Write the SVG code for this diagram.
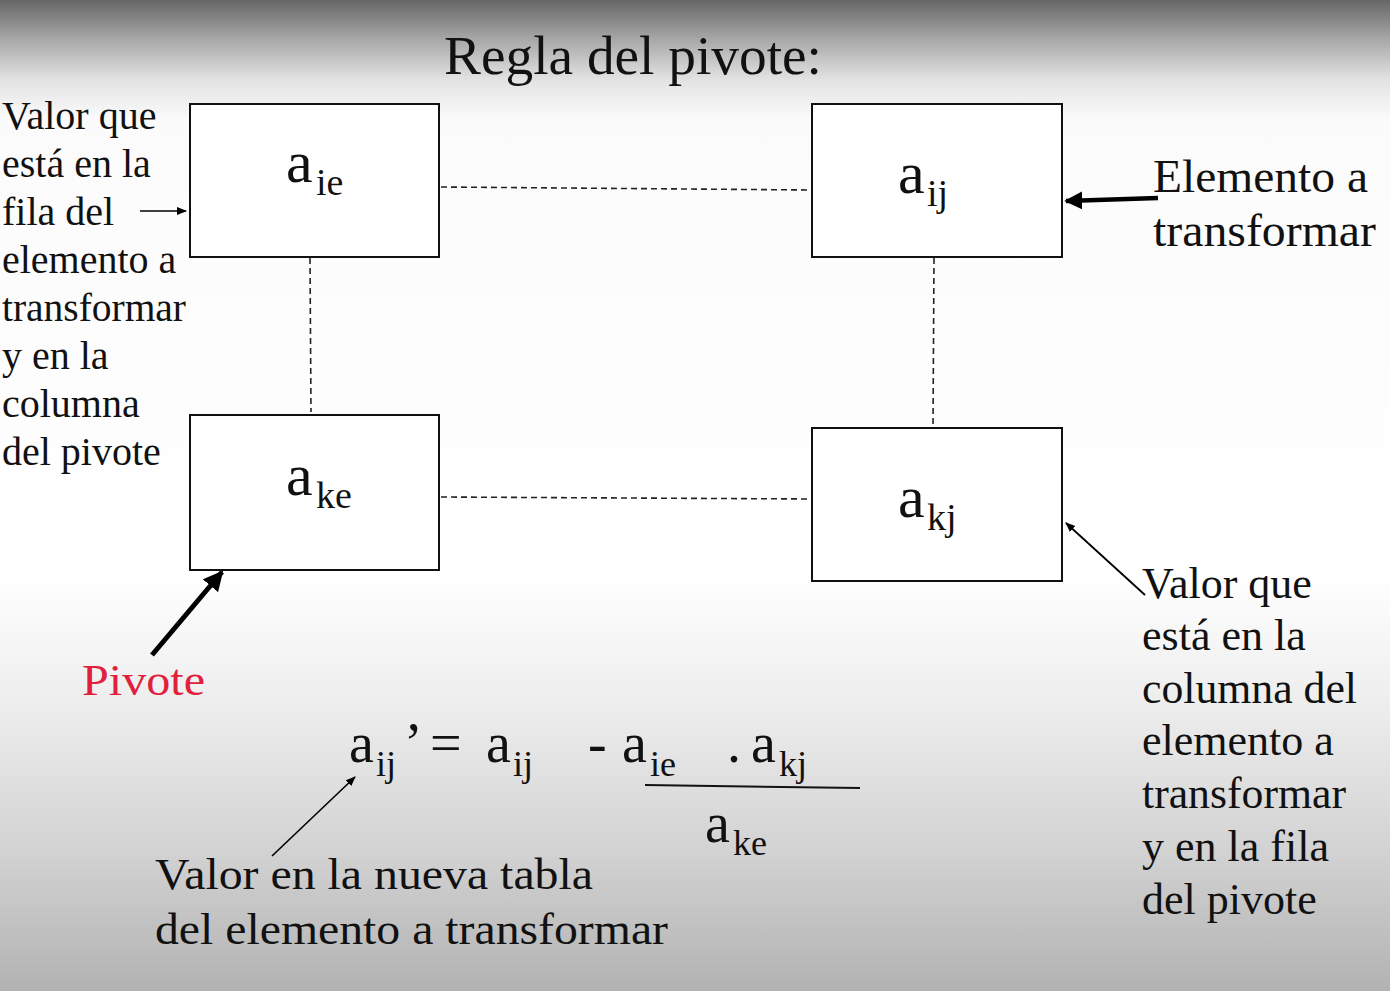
<svg xmlns="http://www.w3.org/2000/svg" width="1390" height="991" viewBox="0 0 1390 991">
<defs>
<linearGradient id="bg" x1="0" y1="0" x2="0" y2="1">
<stop offset="0" stop-color="#666666"/>
<stop offset="0.04" stop-color="#a8a8a8"/>
<stop offset="0.08" stop-color="#e2e2e2"/>
<stop offset="0.12" stop-color="#fbfbfb"/>
<stop offset="0.58" stop-color="#ffffff"/>
<stop offset="0.72" stop-color="#ececec"/>
<stop offset="0.86" stop-color="#d2d2d2"/>
<stop offset="1" stop-color="#b2b2b2"/>
</linearGradient>
<marker id="thin" viewBox="0 0 10 10" refX="9" refY="5" markerWidth="10" markerHeight="10" markerUnits="userSpaceOnUse" orient="auto">
<path d="M0,1 L10,5 L0,9 Z" fill="#000"/>
</marker>
<marker id="thick" viewBox="0 0 10 10" refX="9" refY="5" markerWidth="4" markerHeight="4" orient="auto">
<path d="M0,0 L10,5 L0,10 Z" fill="#000"/>
</marker>
</defs>
<style>
text{font-family:"Liberation Serif","Times New Roman",serif;fill:#111}
.box{fill:#fff;stroke:#111;stroke-width:2}
.dash{stroke:#222;stroke-width:1.6;stroke-dasharray:6 4;fill:none}
.lbl{font-size:40px}
.rt{font-size:44px}
.a{font-size:60px}
.s{font-size:38px}
.fa{font-size:56px}
.fs{font-size:36px}
</style>
<rect width="1390" height="991" fill="url(#bg)"/>
<text x="444" y="74" font-size="54" textLength="378" lengthAdjust="spacingAndGlyphs">Regla del pivote:</text>

<g id="connectors">
<line class="dash" x1="441" y1="187" x2="811" y2="190"/>
<line class="dash" x1="441" y1="497" x2="811" y2="499"/>
<line class="dash" x1="310" y1="258" x2="311" y2="412"/>
<line class="dash" x1="934" y1="258" x2="933" y2="427"/>
<line x1="140" y1="211" x2="186" y2="211" stroke="#000" stroke-width="1.6" marker-end="url(#thin)"/>
<line x1="1158" y1="198" x2="1066" y2="201" stroke="#000" stroke-width="4.5" marker-end="url(#thick)"/>
<line x1="152" y1="655" x2="222" y2="572" stroke="#000" stroke-width="5" marker-end="url(#thick)"/>
<line x1="1145" y1="595" x2="1066" y2="523" stroke="#000" stroke-width="1.8" marker-end="url(#thin)"/>
<line x1="272" y1="856" x2="355" y2="777" stroke="#000" stroke-width="1.6" marker-end="url(#thin)"/>
</g>

<g id="node-aie">
<rect class="box" x="190" y="104" width="249" height="153"/>
<text class="a" x="286" y="182">a</text><text class="s" x="316" y="195">ie</text>
</g>
<g id="node-aij">
<rect class="box" x="812" y="104" width="250" height="153"/>
<text class="a" x="898" y="193">a</text><text class="s" x="927" y="206">ij</text>
</g>
<g id="node-ake">
<rect class="box" x="190" y="415" width="249" height="155"/>
<text class="a" x="286" y="495">a</text><text class="s" x="316" y="508">ke</text>
</g>
<g id="node-akj">
<rect class="box" x="812" y="428" width="250" height="153"/>
<text class="a" x="898" y="517">a</text><text class="s" x="927" y="530">kj</text>
</g>

<g id="label-left" class="lbl">
<text x="2" y="129">Valor que</text>
<text x="2" y="177">está en la</text>
<text x="2" y="225">fila del</text>
<text x="2" y="273">elemento a</text>
<text x="2" y="321" textLength="184" lengthAdjust="spacingAndGlyphs">transformar</text>
<text x="2" y="369">y en la</text>
<text x="2" y="417">columna</text>
<text x="2" y="465">del pivote</text>
</g>

<g id="label-aij" class="rt">
<text x="1153" y="192" font-size="46" textLength="215" lengthAdjust="spacingAndGlyphs">Elemento a</text>
<text x="1153" y="246" font-size="46" textLength="223" lengthAdjust="spacingAndGlyphs">transformar</text>
</g>

<g id="label-akj" class="rt">
<text x="1142" y="598">Valor que</text>
<text x="1142" y="650">está en la</text>
<text x="1142" y="703" textLength="215" lengthAdjust="spacingAndGlyphs">columna del</text>
<text x="1142" y="755">elemento a</text>
<text x="1142" y="808" textLength="204" lengthAdjust="spacingAndGlyphs">transformar</text>
<text x="1142" y="861">y en la fila</text>
<text x="1142" y="914">del pivote</text>
</g>

<g id="label-pivote">
<text x="82" y="695" font-size="44" textLength="123" lengthAdjust="spacingAndGlyphs" style="fill:#e0203c">Pivote</text>
</g>

<g id="label-nueva" class="rt">
<text x="155" y="889" textLength="438" lengthAdjust="spacingAndGlyphs">Valor en la nueva tabla</text>
<text x="155" y="944" textLength="513" lengthAdjust="spacingAndGlyphs">del elemento a transformar</text>
</g>

<g id="formula">
<text class="fa" x="349" y="762">a</text><text class="fs" x="376" y="776">ij</text>
<text class="fa" x="404" y="762">’</text>
<text class="fa" x="430" y="762">=</text>
<text class="fa" x="486" y="762">a</text><text class="fs" x="513" y="776">ij</text>
<text class="fa" x="588" y="762">-</text>
<text class="fa" x="622" y="762">a</text><text class="fs" x="650" y="776">ie</text>
<text class="fa" x="727" y="762">.</text>
<text class="fa" x="751" y="762">a</text><text class="fs" x="779" y="776">kj</text>
<line x1="645" y1="785" x2="860" y2="788" stroke="#111" stroke-width="2"/>
<text class="fa" x="705" y="842">a</text><text class="fs" x="733" y="855">ke</text>
</g>
</svg>
